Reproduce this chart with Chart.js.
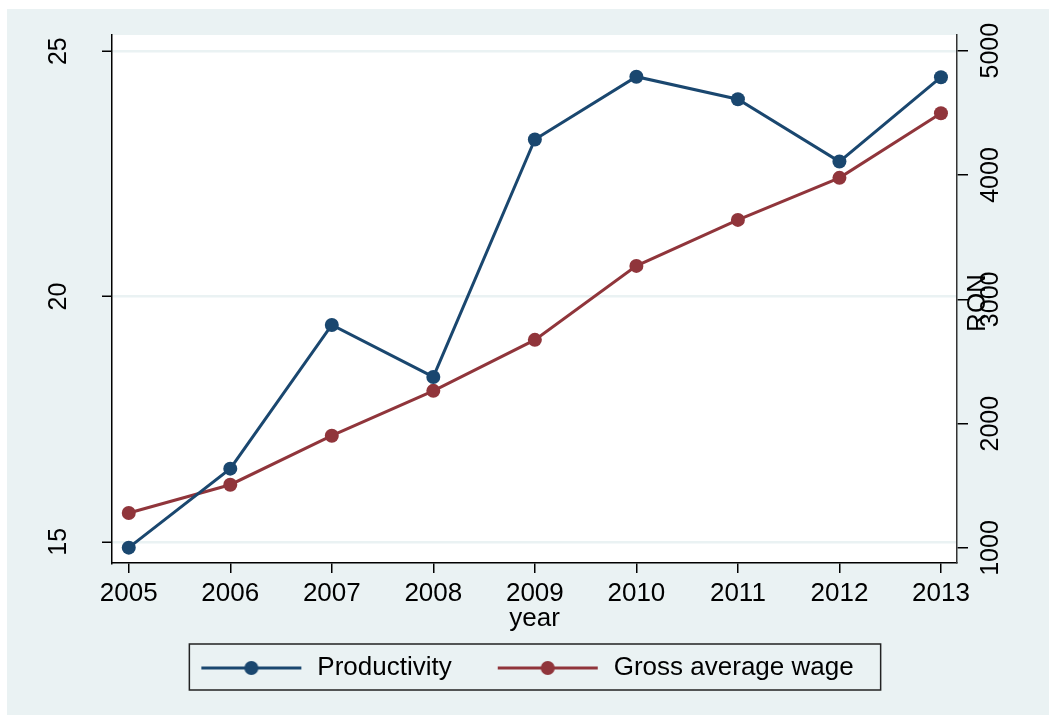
<!DOCTYPE html>
<html lang="en">
<head>
<meta charset="UTF-8">
<title>Productivity and wage</title>
<script src="https://cdn.jsdelivr.net/npm/chart.js"></script>
<style>
  html, body { margin: 0; padding: 0; background: #fff; }
  #wrap { width: 1049px; height: 715px; }
</style>
</head>
<body>
<div id="wrap"><canvas id="myChart" width="1049" height="715"></canvas></div>
<script>
// data
const years = [2005, 2006, 2007, 2008, 2009, 2010, 2011, 2012, 2013];
const productivity = [14.88, 16.49, 19.42, 18.36, 23.2, 24.48, 24.02, 22.75, 24.47];
const wage = [1281, 1509, 1903, 2264, 2674, 3269, 3639, 3977, 4497];
const leftTicks = [15, 20, 25];
const rightTicks = [1000, 2000, 3000, 4000, 5000];
const seriesNames = ['Productivity', 'Gross average wage'];
const rightTitle = 'RON';

const navy = '#1a476f';
const maroon = '#90353b';
const bg = '#eaf2f3';

Chart.defaults.font.family = '"Liberation Sans", Arial, sans-serif';
Chart.defaults.color = '#000';

// legend symbol: line with a dot in the middle (blank space on the left)
function legendSymbol(color) {
  const c = document.createElement('canvas');
  c.width = 139; c.height = 18;
  const g = c.getContext('2d');
  g.strokeStyle = color; g.lineWidth = 3;
  g.beginPath(); g.moveTo(36, 9); g.lineTo(136, 9); g.stroke();
  g.fillStyle = color;
  g.beginPath(); g.arc(86, 9, 7, 0, Math.PI * 2); g.fill();
  return c;
}
const symbols = [legendSymbol(navy), legendSymbol(maroon)];

// rotated labels would otherwise push the plot area down
function fixY(width) {
  return s => { s.width = width; s.paddingTop = 0; s.paddingBottom = 0; };
}

const backdrop = {
  id: 'backdrop',
  beforeDraw(chart) {
    const ctx = chart.ctx, a = chart.chartArea;
    ctx.save();
    ctx.fillStyle = '#fff';
    ctx.fillRect(0, 0, chart.width, chart.height);
    ctx.fillStyle = bg;
    ctx.fillRect(7, 9, chart.width - 7, chart.height - 9);
    ctx.fillStyle = '#fff';
    ctx.fillRect(a.left, a.top, a.right - a.left, a.bottom - a.top);
    ctx.restore();
  },
  afterDraw(chart) {
    const ctx = chart.ctx;
    // legend frame
    const lg = chart.legend;
    const hb = lg.legendHitBoxes;
    if (hb && hb.length) {
      const l = hb[0].left + 24;
      const r = hb[hb.length - 1].left + hb[hb.length - 1].width + 27;
      ctx.save();
      ctx.strokeStyle = '#222';
      ctx.lineWidth = 1.5;
      ctx.strokeRect(l, lg.top - 1, r - l, 46);
      ctx.restore();
    }
    // right axis title, reads bottom to top like the other labels
    const s = chart.scales.y1;
    ctx.save();
    ctx.translate(s.left + 21, (chart.chartArea.top + chart.chartArea.bottom) / 2 + 4);
    ctx.rotate(-Math.PI / 2);
    ctx.font = '26px "Liberation Sans", Arial, sans-serif';
    ctx.fillStyle = '#000';
    ctx.textAlign = 'center';
    ctx.textBaseline = 'middle';
    ctx.fillText(rightTitle, 0, 0);
    ctx.restore();
  }
};

const data = {
  datasets: [{
    label: seriesNames[0],
    data: years.map((y, i) => ({ x: y, y: productivity[i] })),
    yAxisID: 'y',
    borderColor: navy,
    backgroundColor: navy,
    borderWidth: 3,
    pointRadius: 7,
    pointHoverRadius: 7,
    pointBorderWidth: 0,
    tension: 0
  }, {
    label: seriesNames[1],
    data: years.map((y, i) => ({ x: y, y: wage[i] })),
    yAxisID: 'y1',
    borderColor: maroon,
    backgroundColor: maroon,
    borderWidth: 3,
    pointRadius: 7,
    pointHoverRadius: 7,
    pointBorderWidth: 0,
    tension: 0
  }]
};

const config = {
  type: 'line',
  data: data,
  plugins: [backdrop],
  options: {
    responsive: false,
    animation: false,
    layout: { padding: { top: 35, bottom: 24, left: 0, right: 30 } },
    plugins: {
      tooltip: { enabled: false },
      legend: {
        position: 'bottom',
        labels: {
          usePointStyle: true,
          pointStyleWidth: 139,
          padding: 10,
          color: '#000',
          font: { size: 26 },
          generateLabels(chart) {
            const items = Chart.defaults.plugins.legend.labels.generateLabels(chart);
            items.forEach((it, i) => { it.pointStyle = symbols[i]; });
            return items;
          }
        }
      }
    },
    scales: {
      x: {
        type: 'linear',
        position: 'bottom',
        min: 2004.835,
        max: 2013.158,
        afterBuildTicks: s => { s.ticks = years.map(v => ({ value: v })); },
        afterFit: s => { s.height = 82; },
        ticks: {
          callback: v => String(v),
          font: { size: 26 },
          color: '#000',
          padding: 5,
          maxRotation: 0,
          autoSkip: false
        },
        grid: { drawOnChartArea: false, tickLength: 10, color: '#000', lineWidth: 1.5 },
        border: { color: '#000', width: 1.5 },
        title: {
          display: true,
          text: 'year',
          font: { size: 26 },
          color: '#000',
          padding: { top: 0, bottom: 11 }
        }
      },
      y: {
        position: 'left',
        min: 14.567,
        max: 25.33,
        afterBuildTicks: s => { s.ticks = leftTicks.map(v => ({ value: v })); },
        afterFit: fixY(112),
        ticks: {
          minRotation: 90,
          maxRotation: 90,
          crossAlign: 'center',
          padding: 29,
          font: { size: 25 },
          color: '#000'
        },
        grid: { color: bg, lineWidth: 2.5, tickLength: 10, tickColor: '#000', tickWidth: 1.5 },
        border: { color: '#000', width: 1.5 }
      },
      y1: {
        position: 'right',
        min: 879.4,
        max: 5126,
        afterBuildTicks: s => { s.ticks = rightTicks.map(v => ({ value: v })); },
        afterFit: fixY(62),
        ticks: {
          callback: v => String(v),
          minRotation: 90,
          maxRotation: 90,
          crossAlign: 'center',
          padding: -5,
          font: { size: 25 },
          color: '#000'
        },
        grid: { drawOnChartArea: false, tickLength: 11, color: '#000', lineWidth: 1.5 },
        border: { color: '#333', width: 1.5 }
      }
    }
  }
};

const myChart = new Chart(document.getElementById('myChart'), config);
</script>
</body>
</html>
